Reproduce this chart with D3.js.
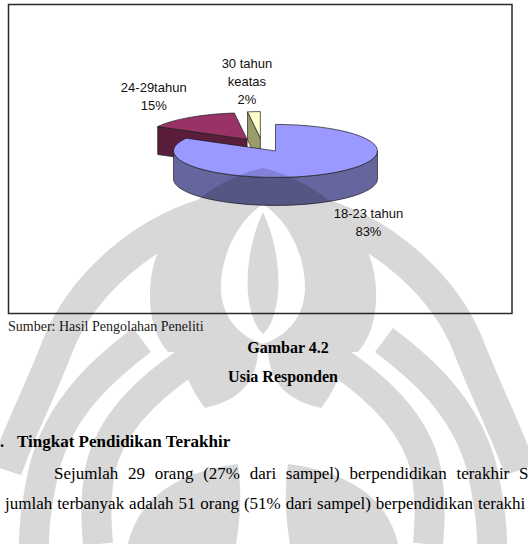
<!DOCTYPE html>
<html>
<head>
<meta charset="utf-8">
<script src="https://cdn.jsdelivr.net/npm/d3@7"></script>
<style>
  html, body { margin: 0; padding: 0; background: #fff; overflow: hidden; }
  svg { display: block; }
</style>
</head>
<body>
<div id="page"></div>
<script>
// Gambar 4.2 - Usia Responden
// 3D exploded pie, drawn face by face (painter's order)

var categories = ["18-23 tahun", "24-29tahun", "30 tahun keatas"];
var values = [83, 15, 2];
var labelLines = [["18-23 tahun"], ["24-29tahun"], ["30 tahun", "keatas"]];

var topColors = ["#9999ff", "#993366", "#ffffcc"];
var sideColors = ["#66669e", "#5a1d3b", "#9c9c6a"];

var W = 528, H = 544;

var svg = d3.select("#page").append("svg")
  .attr("width", W)
  .attr("height", H);

// chart frame
svg.append("rect")
  .attr("x", 8.5).attr("y", 4.5)
  .attr("width", 503.5).attr("height", 309)
  .attr("fill", "#fff")
  .attr("stroke", "#2a2a2a")
  .attr("stroke-width", 1.5);

// pie geometry
var cx = 262, cy = 145, rx = 102, ry = 26.5, depth = 28, explode = 0.26;
var labelNudge = [[41, 49], [-36, -21], [-7, -30]];

var pie = d3.pie().sort(null).value(function(d) { return d.value; });
var total = d3.sum(values);
var arcs = pie(values.map(function(v, i) { return { value: v, i: i }; }));

function pt(c, a) {
  return [c[0] + rx * Math.sin(a), c[1] - ry * Math.cos(a)];
}
function down(p) { return [p[0], p[1] + depth]; }

arcs.forEach(function(d) {
  d.mid = (d.startAngle + d.endAngle) / 2;
  d.center = [cx + explode * rx * Math.sin(d.mid), cy - explode * ry * Math.cos(d.mid)];
});

function topPath(d) {
  var c = d.center, p0 = pt(c, d.startAngle), p1 = pt(c, d.endAngle);
  var large = (d.endAngle - d.startAngle) > Math.PI ? 1 : 0;
  return "M" + c + "L" + p0 + "A" + rx + "," + ry + " 0 " + large + " 1 " + p1 + "Z";
}
function sidePath(d) {
  var s = Math.max(d.startAngle, Math.PI / 2), e = Math.min(d.endAngle, 3 * Math.PI / 2);
  if (e <= s) return null;
  var c = d.center, p0 = pt(c, s), p1 = pt(c, e);
  return "M" + p0 + "A" + rx + "," + ry + " 0 0 1 " + p1 +
    "L" + down(p1) + "A" + rx + "," + ry + " 0 0 0 " + down(p0) + "Z";
}
function facePath(d, a) {
  var c = d.center, p = pt(c, a);
  return "M" + c + "L" + p + "L" + down(p) + "L" + down(c) + "Z";
}

var order = [1, 2, 0];
var gPie = svg.append("g")
  .attr("stroke", "#1c1c1c")
  .attr("stroke-width", 0.7)
  .attr("stroke-linejoin", "round");

order.forEach(function(i) {
  var d = arcs[i];
  var g = gPie.append("g").attr("class", "slice");
  var sp = sidePath(d);
  if (sp) g.append("path").attr("d", sp).attr("fill", sideColors[i]);
  if (Math.sin(d.startAngle) < -1e-6)
    g.append("path").attr("d", facePath(d, d.startAngle)).attr("fill", sideColors[i]);
  if (Math.sin(d.endAngle) > 1e-6)
    g.append("path").attr("d", facePath(d, d.endAngle)).attr("fill", sideColors[i]);
  g.append("path").attr("d", topPath(d)).attr("fill", topColors[i]);
});

// data labels
var gLab = svg.append("g")
  .attr("font-family", "'Liberation Sans', Arial, sans-serif")
  .attr("font-size", 13)
  .attr("fill", "#111")
  .attr("text-anchor", "middle");

arcs.forEach(function(d, i) {
  var p = pt(d.center, d.mid);
  var lx = p[0] + labelNudge[i][0], ly = p[1] + labelNudge[i][1];
  var lines = labelLines[i].concat([Math.round(d.data.value / total * 100) + "%"]);
  var y0 = ly - (lines.length - 1) * 9;
  lines.forEach(function(t, k) {
    gLab.append("text")
      .attr("x", lx)
      .attr("y", y0 + k * 18 + 4.6)
      .text(t);
  });
});

// document text below the chart
var gDoc = svg.append("g")
  .attr("font-family", "'Liberation Serif', 'Times New Roman', serif")
  .attr("fill", "#000");

gDoc.append("text").attr("x", 8).attr("y", 331).attr("font-size", 14)
  .attr("fill", "#222").text("Sumber: Hasil Pengolahan Peneliti");
gDoc.append("text").attr("x", 288).attr("y", 353).attr("font-size", 16)
  .attr("font-weight", "bold").attr("text-anchor", "middle").text("Gambar 4.2");
gDoc.append("text").attr("x", 283).attr("y", 382).attr("font-size", 16)
  .attr("font-weight", "bold").attr("text-anchor", "middle").text("Usia Responden");
gDoc.append("text").attr("x", 0).attr("y", 447).attr("font-size", 17)
  .attr("font-weight", "bold").text(".");
gDoc.append("text").attr("x", 17).attr("y", 447).attr("font-size", 17)
  .attr("font-weight", "bold").text("Tingkat Pendidikan Terakhir");

function justify(words, x0, lastStart, y) {
  var nodes = words.map(function(w) {
    return gDoc.append("text").attr("y", y).attr("font-size", 17).text(w);
  });
  var widths = nodes.map(function(n) { return n.node().getComputedTextLength(); });
  var inner = d3.sum(widths.slice(0, -1));
  var gap = (lastStart - x0 - inner) / (words.length - 1);
  var x = x0;
  nodes.forEach(function(n, i) { n.attr("x", x); x += widths[i] + gap; });
}

justify("Sejumlah 29 orang (27% dari sampel) berpendidikan terakhir S".split(" "), 54, 519, 479);
justify("jumlah terbanyak adalah 51 orang (51% dari sampel) berpendidikan terakhi".split(" "), 5, 478, 509);

// faint university watermark laid over the page
var wm = svg.append("g").attr("opacity", 0.15).attr("fill", "#000");

wm.append("path")
  .attr("fill-rule", "evenodd")
  .attr("d", "M263,168 C205,182 152,228 150,290 C149,318 156,338 168,352 L358,352 C370,338 377,318 376,290 C374,228 321,182 263,168 Z " +
    "M263,204 C236,222 220,258 221,290 C222,316 238,336 263,344 C288,336 304,316 305,290 C306,258 290,222 263,204 Z");
wm.append("path")
  .attr("d", "M263,212 C251,238 246,268 248,294 C250,314 256,328 263,334 C270,328 276,314 278,294 C280,268 275,238 263,212 Z");

[false, true].forEach(function(mirror) {
  var g = wm.append("g");
  if (mirror) g.attr("transform", "translate(526,0) scale(-1,1)");
  g.append("path").attr("fill", "none").attr("stroke", "#000").attr("stroke-width", 32)
    .attr("d", "M222,210 C140,228 80,290 58,345 C40,392 20,430 6,470");
  g.append("path").attr("fill", "none").attr("stroke", "#000").attr("stroke-width", 30)
    .attr("d", "M142,340 C105,368 62,405 45,465 C38,495 34,520 34,544");
  g.append("path").attr("fill", "none").attr("stroke", "#000").attr("stroke-width", 30)
    .attr("d", "M190,360 C145,390 110,425 100,470 C95,500 96,520 98,544");
  g.append("path")
    .attr("d", "M180,352 L258,352 C256,380 242,400 205,408 C192,392 184,372 180,352 Z");
  g.append("path")
    .attr("d", "M128,544 C138,500 175,472 238,464 C242,495 240,520 236,544 Z");
});
</script>
</body>
</html>
